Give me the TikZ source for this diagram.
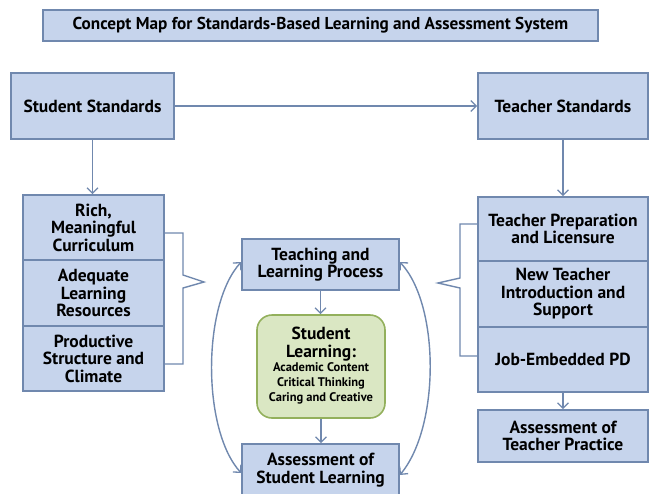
\documentclass[tikz,border=0pt]{standalone}
\usepackage{fontspec}
\setmainfont{PT Sans}
\usetikzlibrary{arrows.meta}
\definecolor{boxfill}{HTML}{C6D4EC}
\definecolor{boxline}{HTML}{7088AE}
\definecolor{greenfill}{HTML}{DAE7C3}
\definecolor{greenline}{HTML}{93B05C}
\tikzset{
  bx/.style={draw=boxline, fill=boxfill, line width=1.6pt, align=center, inner sep=0pt,
    font=\bfseries\fontsize{17.5}{17.5}\selectfont},
  tip/.style={},
  conn/.style={draw=boxline, line width=1.4pt, -{Straight Barb[length=5.5pt,width=11pt,line width=1.3pt]}},
  biconn/.style={draw=boxline, line width=1.4pt, {Straight Barb[length=5.5pt,width=11pt,line width=1.3pt]}-{Straight Barb[length=5.5pt,width=11pt,line width=1.3pt]}},
  brk/.style={draw=boxline, line width=1.4pt}
}
\begin{document}
\begin{tikzpicture}[x=1pt,y=-1pt]
\useasboundingbox (0,0) rectangle (651,493);
\clip (0,0) rectangle (651,493);
\fill[white] (0,0) rectangle (651,493);
% title
\node[bx, minimum width=555pt, minimum height=31pt, font=\bfseries\fontsize{17.2}{18}\selectfont] (title) at (320.5,25.5) {Concept Map for Standards-Based Learning and Assessment System};
% top boxes
\node[bx, minimum width=163pt, minimum height=66pt] (ss) at (92.5,106) {Student Standards};
\node[bx, minimum width=170pt, minimum height=66pt] (ts) at (563,106) {Teacher Standards};
% left stack
\node[bx, minimum width=141pt, minimum height=65pt] (l1) at (93.5,227.5) {Rich,\\Meaningful\\Curriculum};
\node[bx, minimum width=141pt, minimum height=66pt] (l2) at (93.5,293) {Adequate\\Learning\\Resources};
\node[bx, minimum width=141pt, minimum height=65pt] (l3) at (93.5,358.5) {Productive\\Structure and\\Climate};
% right stack
\node[bx, minimum width=170pt, minimum height=64pt] (r1) at (563,229) {Teacher Preparation\\and Licensure};
\node[bx, minimum width=170pt, minimum height=66pt] (r2) at (563,294) {New Teacher\\Introduction and\\Support};
\node[bx, minimum width=170pt, minimum height=65pt] (r3) at (563,359.5) {Job-Embedded PD};
\node[bx, minimum width=170pt, minimum height=52pt] (atp) at (563,436) {Assessment of\\Teacher Practice};
% center column
\node[bx, minimum width=157pt, minimum height=51pt] (tlp) at (320.5,264.5) {Teaching and\\Learning Process};
\node[bx, draw=greenline, fill=greenfill, rounded corners=15pt, minimum width=128pt, minimum height=103pt] (sl) at (321,366.5)
  {Student\\Learning:\\[-1pt]{\fontsize{12.5}{15}\selectfont\begin{tabular}{@{}c@{}}Academic Content\\Critical Thinking\\Caring and Creative\end{tabular}}};
\node[bx, minimum width=157pt, minimum height=52pt] (asl) at (320.5,470) {Assessment of\\Student Learning};
% connectors
\draw[conn] (ss.east) -- (ts.west);
\draw[conn] (ss.south) -- (ss.south |- l1.north);
\draw[conn] (ts.south) -- (ts.south |- r1.north);
\draw[conn] (tlp.south) -- (tlp.south |- sl.north);
\draw[conn] (sl.south) -- (sl.south |- asl.north);
\draw[conn] (r3.south) -- (atp.north);
\coordinate (aslw) at ([yshift=-3pt]asl.west);
\coordinate (asle) at ([yshift=-5pt]asl.east);
\coordinate (tlpw) at ([yshift=2.5pt]tlp.west);
\coordinate (tlpe) at ([yshift=2.5pt]tlp.east);
\draw[biconn] (aslw) .. controls (202,430) and (202,305) .. (tlpw);
\draw[biconn] (tlpe) .. controls (440,305) and (440,427) .. (asle);
% brackets
\draw[brk] (164,233) -- (183,233) -- (183,275) -- (204,282) -- (183,288) -- (183,364) -- (164,364);
\draw[brk] (478,224) -- (460,224) -- (460,278) -- (438,283) -- (460,288) -- (460,356) -- (478,356);
\end{tikzpicture}
\end{document}
